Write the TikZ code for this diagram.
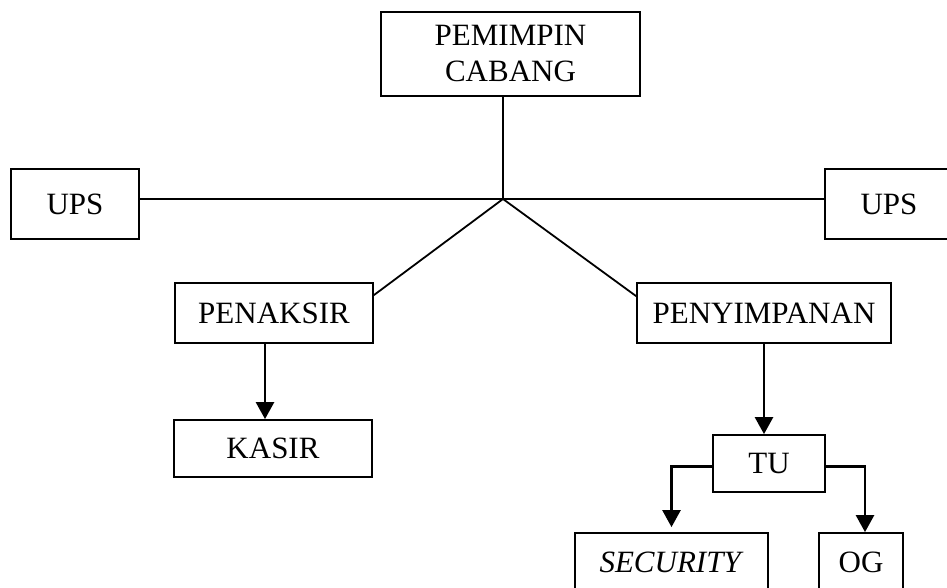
\documentclass[tikz,border=0pt]{standalone}
\usepackage{fontspec}
\setmainfont{Liberation Serif}
\usetikzlibrary{arrows.meta}
\tikzstyle{unit} = [rectangle, draw=black, line width=1.8pt, inner sep=0pt, text centered, font=\fontsize{31}{36}\selectfont]
\tikzstyle{link} = [line width=1.8pt]
\tikzstyle{arrow} = [line width=2.6pt, -{Triangle[length=17pt,width=18pt]}]

\begin{document}
\begin{tikzpicture}[x=1pt, y=-1pt, node distance=135.5pt]
\useasboundingbox (0,0) rectangle (947,588);
\clip (0,0) rectangle (947,588);
% Head of the branch
\node (pemimpin) [unit, minimum width=259pt, minimum height=84pt, align=center] at (510.5,54) {PEMIMPIN\\CABANG};
\coordinate (hub) at (503,199);

% UPS on both sides
\node (upsleft) [unit, minimum width=128pt, minimum height=70pt] at (75,204) {UPS};
\node (upsright) [unit, minimum width=128pt, minimum height=70pt] at (889,204) {UPS};
\draw [link] (upsleft.east |- hub) -- (upsright.west |- hub);
\draw [link] (pemimpin.south -| hub) -- (hub);

% Left branch
\node (penaksir) [unit, minimum width=198pt, minimum height=60pt] at (274,313) {PENAKSIR};
\node (kasir) [unit, below of=penaksir, xshift=-1pt, minimum width=198pt, minimum height=57pt] {KASIR};
\draw [link] (hub) -- ([yshift=-13pt]penaksir.north east);
\draw [arrow] ([xshift=-9pt]penaksir.south) -- ([xshift=-8pt]kasir.north);

% Right branch
\node (penyimpanan) [unit, minimum width=254pt, minimum height=60pt] at (764,313) {PENYIMPANAN};
\node (tu) [unit, minimum width=112pt, minimum height=57pt] at (769,463.5) {TU};
\draw [link] (hub) -- ([yshift=-14pt]penyimpanan.north west);
\draw [arrow] (penyimpanan.south) -- (penyimpanan.south |- tu.north);

% Under TU (boxes run past the bottom edge)
\node (security) [unit, minimum width=193pt, minimum height=58pt] at (671.5,562) {\textit{SECURITY}};
\node (og) [unit, minimum width=84pt, minimum height=58pt] at (861,562) {OG};
\draw [arrow, shorten >=5pt] ([yshift=-3pt]tu.west) -| (security.north);
\draw [arrow] ([yshift=-3pt]tu.east) -| ([xshift=4pt]og.north);
\end{tikzpicture}
\end{document}
